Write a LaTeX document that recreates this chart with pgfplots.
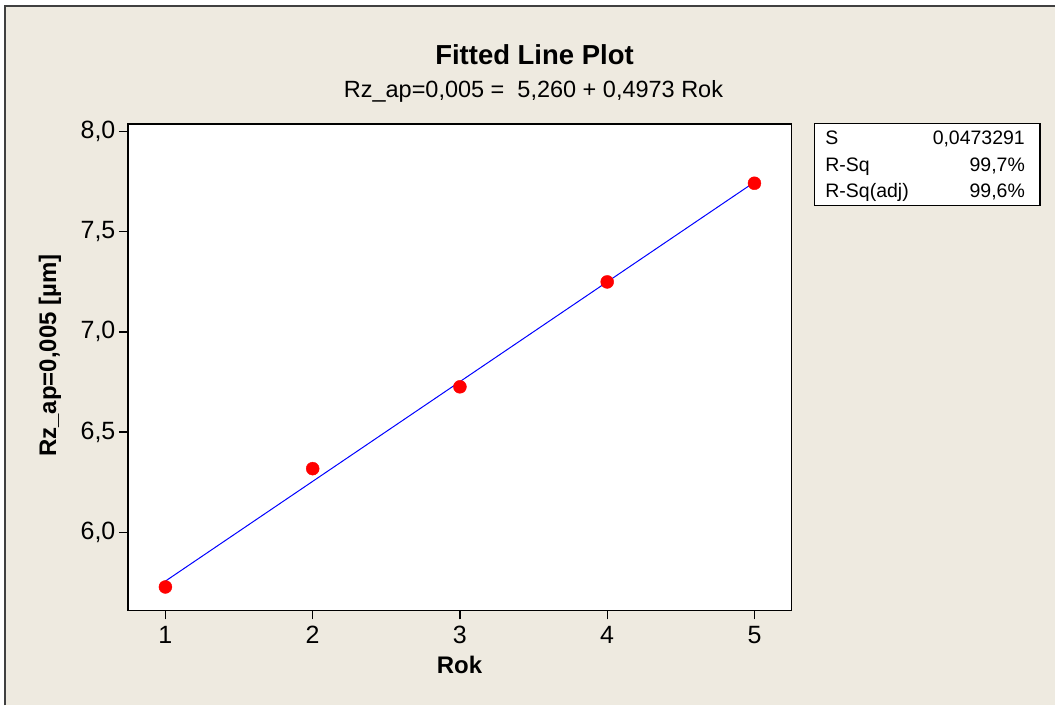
\documentclass[border=0pt]{standalone}
\usepackage{fontspec}
\setmainfont{Liberation Sans}
\usepackage{pgfplots}
\pgfplotsset{compat=1.18}
\definecolor{bgbeige}{RGB}{238,234,224}
\definecolor{framegray}{RGB}{64,64,64}
\begin{document}
\begin{tikzpicture}[x=1pt,y=1pt]
\fill[white] (0,0) rectangle (1056,-706);
\fill[bgbeige] (4,-5) rectangle (1056,-706);
\draw[framegray, line width=2pt] (5,-706) -- (5,-6) -- (1056,-6);
\begin{axis}[
  at={(128pt,-611pt)}, anchor=south west,
  scale only axis, width=664pt, height=487pt,
  xmin=0.745, xmax=5.25, ymin=5.611, ymax=8.037,
  axis background/.style={fill=white},
  axis line style={black, line width=1.3pt},
  tick style={black, line width=1.3pt},
  tick align=outside, tick pos=left,
  major tick length=9pt,
  xtick={1,2,3,4,5},
  ytick={6,6.5,7,7.5,8},
  /pgf/number format/assume math mode=true,
  ticklabel style={font=\fontsize{25}{29}\selectfont},
  yticklabel style={/pgf/number format/.cd, fixed, fixed zerofill, precision=1, use comma},
  xticklabel style={yshift=-3pt, /pgf/number format/.cd, fixed, precision=0},
  xlabel={Rok},
  ylabel={Rz\_ap=0,005 [µm]},
  label style={font=\fontsize{24}{28}\selectfont\bfseries},
  xlabel style={at={(axis description cs:0.5,-0.111)}, anchor=center},
  ylabel style={at={(axis description cs:-0.1175,0.524)}, anchor=center, rotate=0},
]
\addplot[blue, line width=1pt] coordinates {(1,5.7573) (5,7.7465)};
\addplot[only marks, mark=*, mark size=6.5pt, color=red, fill=red] coordinates {
(1,5.728) (2,6.318) (3,6.726) (4,7.249) (5,7.741)};
\end{axis}
\node[anchor=base, font=\fontsize{27.5}{30}\selectfont\bfseries] at (535,-65) {Fitted Line Plot};
\node[anchor=base, font=\fontsize{23.5}{27}\selectfont] at (534,-98) {Rz\_ap=0,005 =\ \ 5,260 + 0,4973 Rok};
\draw[black, line width=1.2pt, fill=white] (815,-124) rectangle (1041,-206);
\begin{scope}[every node/.style={font=\fontsize{19.5}{22}\selectfont, inner sep=0pt}]
\node[anchor=base west] at (826,-145) {S};
\node[anchor=base west] at (826,-172) {R-Sq};
\node[anchor=base west] at (826,-198) {R-Sq(adj)};
\node[anchor=base east] at (1026,-145) {0,0473291};
\node[anchor=base east] at (1026,-172) {99,7\%};
\node[anchor=base east] at (1026,-198) {99,6\%};
\end{scope}
\end{tikzpicture}
\end{document}
